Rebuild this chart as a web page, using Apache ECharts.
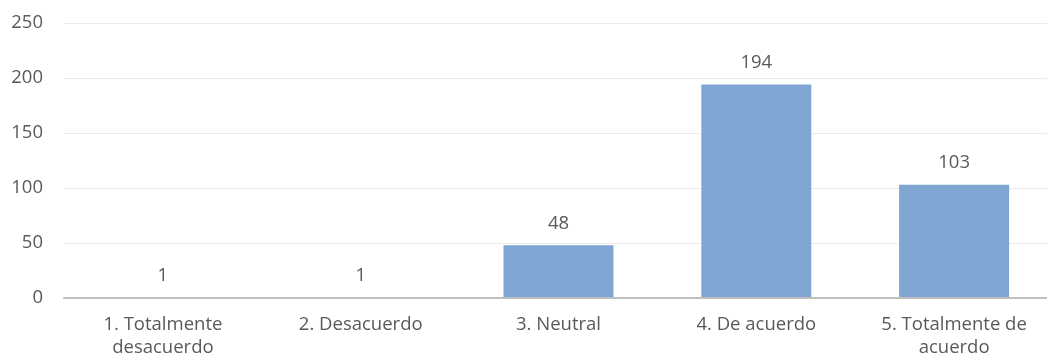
<!DOCTYPE html>
<html>
<head>
<meta charset="utf-8">
<script src="https://cdn.jsdelivr.net/npm/echarts@6/dist/echarts.min.js"></script>
<style>
  html, body { margin: 0; padding: 0; background: #ffffff; }
  #chart { width: 1047px; height: 357px; }
</style>
</head>
<body>
<div id="chart"></div>
<script>
// Survey responses per agreement level
const categories = [
  '1. Totalmente\ndesacuerdo',
  '2. Desacuerdo',
  '3. Neutral',
  '4. De acuerdo',
  '5. Totalmente de\nacuerdo'
];
const counts = [1, 1, 48, 194, 103];
const yTicks = { min: 0, max: 250, interval: 50 };

const textColor = '#595959';
const fontFamily = '"Open Sans", "Noto Sans", sans-serif';
const fontSize = 18.5;

const chart = echarts.init(document.getElementById('chart'), null, { renderer: 'canvas' });
chart.setOption({
  animation: false,
  backgroundColor: '#ffffff',
  grid: {
    left: 64, top: 23, width: 989, height: 275,
    containLabel: false,
    outerBoundsMode: 'none'
  },
  xAxis: {
    type: 'category',
    data: categories,
    z: 3, // baseline drawn above the bars
    axisTick: { show: false },
    axisLine: { lineStyle: { color: '#bfbfbf', width: 2 } },
    axisLabel: {
      color: textColor, fontFamily, fontSize, lineHeight: 23, margin: 15,
      interval: 0
    }
  },
  yAxis: {
    type: 'value',
    min: yTicks.min, max: yTicks.max, interval: yTicks.interval,
    axisLine: { show: false },
    axisTick: { show: false },
    splitLine: { lineStyle: { color: '#ececec', width: 1 } },
    axisLabel: { color: textColor, fontFamily, fontSize, margin: 21 }
  },
  series: [{
    type: 'bar',
    data: counts,
    barWidth: 110,
    itemStyle: { color: '#7fa6d3' },
    label: {
      show: true, position: 'top', distance: 12,
      color: textColor, fontFamily, fontSize
    }
  }]
});
</script>
</body>
</html>
